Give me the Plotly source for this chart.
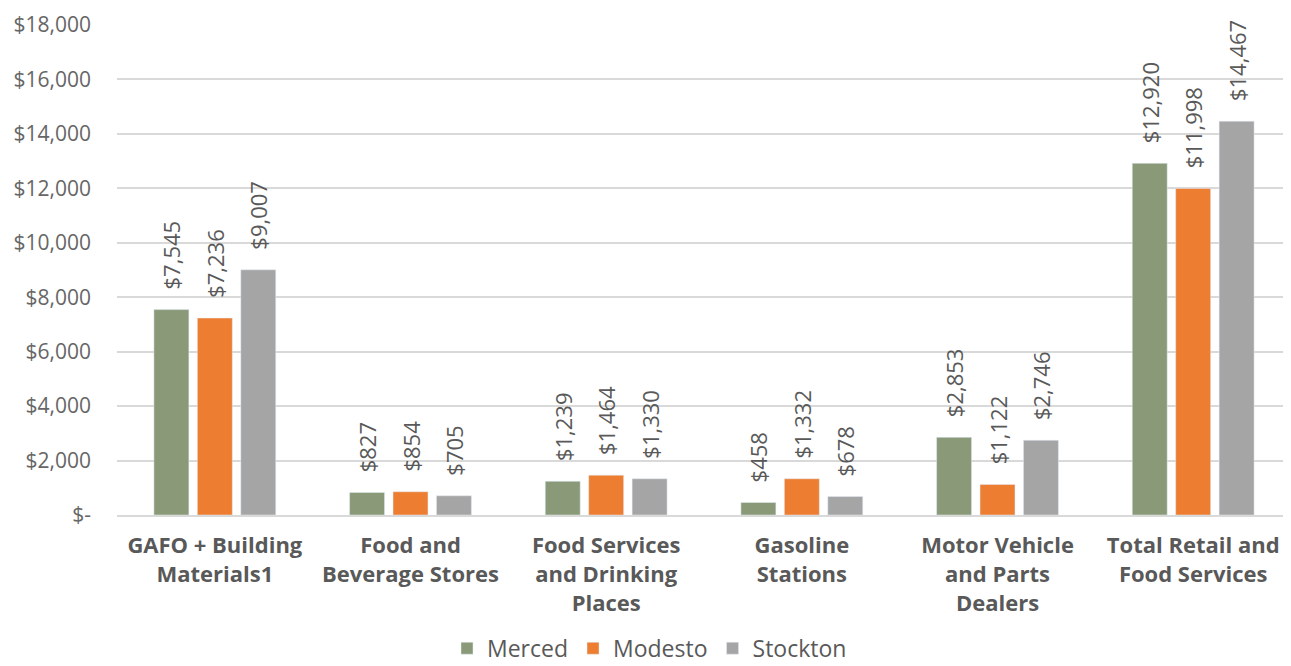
import plotly.graph_objects as go

categories = ["GAFO + Building<br>Materials1", "Food and<br>Beverage Stores", "Food Services<br>and Drinking<br>Places",
              "Gasoline<br>Stations", "Motor Vehicle<br>and Parts<br>Dealers", "Total Retail and<br>Food Services"]
merced = [7545, 827, 1239, 458, 2853, 12920]
modesto = [7236, 854, 1464, 1332, 1122, 11998]
stockton = [9007, 705, 1330, 678, 2746, 14467]
series = [("Merced", merced, "#8A9A78"), ("Modesto", modesto, "#ED7D31"), ("Stockton", stockton, "#A5A5A5")]
tick_vals = [0, 2000, 4000, 6000, 8000, 10000, 12000, 14000, 16000, 18000]
tick_text = ["$-", "$2,000", "$4,000", "$6,000", "$8,000", "$10,000", "$12,000", "$14,000", "$16,000", "$18,000"]

FONT = "'Open Sans', sans-serif"
PAD = "\u00a0\u00a0\u00a0"
fig = go.Figure()
for name, vals, color in series:
    fig.add_trace(go.Bar(
        name=name, x=categories, y=vals, marker_color=color,
        text=[PAD + "${:,}".format(v) for v in vals], textposition="outside", textangle=-90,
        textfont=dict(family=FONT, size=22, color="#595959"), cliponaxis=False,
        constraintext="none",
    ))

fig.update_layout(
    width=1283, height=658, barmode="group", bargap=0.334, bargroupgap=0.195,
    plot_bgcolor="white", paper_bgcolor="white",
    margin=dict(l=109, r=0, t=17, b=151, autoexpand=False),
    font=dict(family=FONT, color="#595959"),
    legend=dict(orientation="h", xref="container", x=0.5, xanchor="center", y=-0.272, yanchor="middle",
                font=dict(size=23, color="#595959"), itemwidth=30, traceorder="normal", borderwidth=0),
)
fig.update_xaxes(tickfont=dict(size=22, color="#595959", family=FONT, weight="bold"),
                 showline=True, linecolor="#D9D9D9", linewidth=2, ticks="", automargin=False,
                 ticklabelstandoff=10)
fig.update_yaxes(range=[0, 18000], tickvals=tick_vals, ticktext=tick_text,
                 tickfont=dict(size=21, color="#666666"), gridcolor="#D9D9D9", gridwidth=2,
                 zeroline=False, ticks="", ticklabelstandoff=25, automargin=False)
fig.write_html("out.html")
